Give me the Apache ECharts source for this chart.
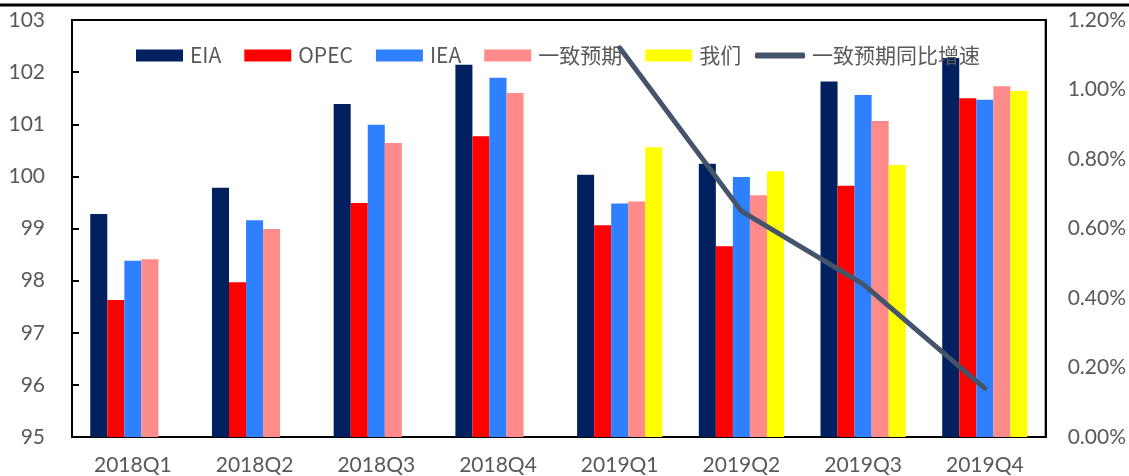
<!DOCTYPE html>
<html>
<head>
<meta charset="utf-8">
<script src="https://cdn.jsdelivr.net/npm/echarts@6/dist/echarts.min.js"></script>
<style>
html,body{margin:0;padding:0;background:#fff;}
#chart{width:1129px;height:476px;}
</style>
</head>
<body>
<div id="chart"></div>
<script>
const categories = ['2018Q1','2018Q2','2018Q3','2018Q4','2019Q1','2019Q2','2019Q3','2019Q4'];
const eia       = [99.28, 99.78, 101.39, 102.14, 100.03, 100.24, 101.82, 102.27];
const opec      = [97.63, 97.97, 99.49, 100.77, 99.06, 98.66, 99.82, 101.50];
const iea       = [98.38, 99.16, 100.99, 101.89, 99.48, 99.99, 101.56, 101.47];
const consensus = [98.41, 98.99, 100.64, 101.60, 99.52, 99.64, 101.06, 101.73];
const ours      = [null, null, null, null, 100.56, 100.10, 100.22, 101.64];
const consensusYoY = [null, null, null, null, 1.12, 0.65, 0.44, 0.14]; // percent

const chart = echarts.init(document.getElementById('chart'));
const latin = 'Lato, "Noto Sans CJK SC", sans-serif';
const labelColor = '#595959';
const legendText = { color: labelColor, fontSize: 21, fontFamily: '"Noto Sans CJK SC", sans-serif', padding: [0, 0, 0, 2] };

function bar(name, data, color) {
  return { name, type: 'bar', data, barGap: '0%', barCategoryGap: '30%',
    itemStyle: { color }, yAxisIndex: 0 };
}

chart.setOption({
  animation: false,
  backgroundColor: '#fff',
  grid: { left: 72, right: 83, top: 20, bottom: 39, show: true,
    borderColor: '#000', borderWidth: 2, backgroundColor: 'transparent' },
  legend: [
    { left: 136, top: 45, padding: 0, itemWidth: 47, itemHeight: 12, itemGap: 23,
      textStyle: legendText,
      data: ['EIA', 'OPEC', 'IEA', '一致预期', '我们'].map(n => ({ name: n, icon: 'rect' })) },
    { left: 755, top: 45, padding: 0, itemWidth: 50, itemHeight: 6,
      textStyle: legendText,
      data: [{ name: '一致预期同比增速', icon: 'roundRect' }] }
  ],
  xAxis: {
    type: 'category', data: categories,
    axisLine: { lineStyle: { color: '#000', width: 2 } },
    axisTick: { show: false },
    axisLabel: { color: labelColor, fontSize: 21, fontFamily: latin, margin: 18 }
  },
  yAxis: [
    { type: 'value', min: 95, max: 103, interval: 1,
      axisLine: { show: true, lineStyle: { color: '#000', width: 2 } },
      axisTick: { show: true, inside: true, length: 7, lineStyle: { color: '#000', width: 2 } },
      splitLine: { show: false },
      axisLabel: { color: labelColor, fontSize: 21, fontFamily: latin, margin: 27 } },
    { type: 'value', min: 0, max: 1.2, interval: 0.2, position: 'right',
      axisLine: { show: true, lineStyle: { color: '#000', width: 2 } },
      axisTick: { show: false },
      splitLine: { show: false },
      axisLabel: { color: labelColor, fontSize: 21, fontFamily: latin, margin: 22,
        formatter: v => v.toFixed(2) + '%' } }
  ],
  series: [
    bar('EIA', eia, '#002060'),
    bar('OPEC', opec, '#FF0000'),
    bar('IEA', iea, '#2F80FF'),
    bar('一致预期', consensus, '#FF8B8B'),
    bar('我们', ours, '#FFFF00'),
    { name: '一致预期同比增速', type: 'line', yAxisIndex: 1, data: consensusYoY,
      showSymbol: false, symbol: 'none', z: 10,
      lineStyle: { color: '#44546A', width: 5, cap: 'round', join: 'round' },
      itemStyle: { color: '#44546A' } }
  ],
  graphic: [
    { type: 'line', shape: { x1: 0, y1: 5, x2: 1129, y2: 5 },
      style: { stroke: '#000', lineWidth: 3 } }
  ]
});
</script>
</body>
</html>
